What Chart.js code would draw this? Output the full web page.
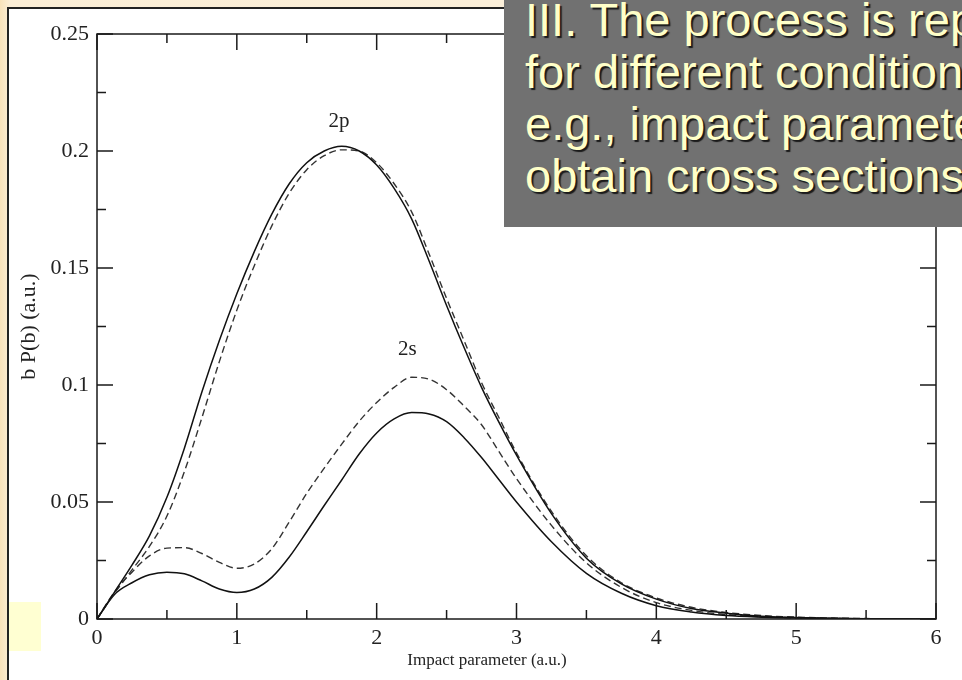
<!DOCTYPE html>
<html>
<head>
<meta charset="utf-8">
<title>b P(b) vs impact parameter</title>
<script src="https://cdn.jsdelivr.net/npm/chart.js@4/dist/chart.umd.min.js"></script>
<style>
  html, body { margin:0; padding:0; width:962px; height:680px; overflow:hidden; }
  #slide { position:relative; width:962px; height:680px; overflow:hidden;
    background: linear-gradient(90deg, #f8e2ba 0px, #fbeed6 10px, #fbf0dc 100%); }
  #panel { position:absolute; left:7px; top:7px; right:-10px; bottom:-10px; background:#fff;
    border-left:2px solid #222; border-top:2px solid #222; }
  #mycanvas { position:absolute; left:0; top:0; }
  #marker { position:absolute; left:9px; top:602px; width:32px; height:49px; background:#ffffd2; }
  #note { position:absolute; left:504px; top:0; width:480px; height:227px; background:#717171; overflow:hidden; }
  #note p { position:absolute; left:21px; top:-6px; margin:0; white-space:nowrap;
    font-family:"Liberation Sans", Arial, sans-serif; font-size:47px; line-height:52px;
    color:#ffffc8; text-shadow:2px 2px 1px #1a1a1a; }
</style>
</head>
<body>
<div id="slide">
  <div id="panel"></div>
  <div id="marker"></div>
  <canvas id="mycanvas" width="962" height="680"></canvas>
  <div id="note"><p>III. The process is repeated<br>for different conditions,<br>e.g., impact parameters,<br>obtain cross sections</p></div>
</div>
<script>
// impact parameter grid (a.u.)
var bValues = [0, 0.125, 0.25, 0.375, 0.5, 0.625, 0.75, 0.875, 1, 1.125, 1.25, 1.375, 1.5, 1.625, 1.75, 1.875, 2,
               2.125, 2.25, 2.375, 2.5, 2.625, 2.75, 2.875, 3, 3.25, 3.5, 3.75, 4, 4.25, 4.5, 4.75, 5, 5.5, 6];

// b P(b) for the 2p and 2s channels, two calculations each
var p2Solid  = [0, 0.0115, 0.023, 0.0355, 0.052, 0.073, 0.097, 0.119, 0.139, 0.157, 0.173, 0.186, 0.195, 0.200, 0.202, 0.200, 0.194,
                0.184, 0.171, 0.153, 0.134, 0.116, 0.099, 0.084, 0.070, 0.045, 0.026, 0.015, 0.0085, 0.0045, 0.0025, 0.0012, 0.0006, 0.0001, 0];
var p2Dashed = [0, 0.011, 0.021, 0.031, 0.044, 0.063, 0.086, 0.110, 0.132, 0.151, 0.168, 0.182, 0.192, 0.198, 0.2005, 0.200, 0.195,
                0.186, 0.174, 0.156, 0.137, 0.119, 0.101, 0.086, 0.071, 0.046, 0.027, 0.0155, 0.009, 0.005, 0.0028, 0.0015, 0.0008, 0.0002, 0];
var s2Solid  = [0, 0.0105, 0.0155, 0.0189, 0.0200, 0.0193, 0.0163, 0.0128, 0.0113, 0.0128, 0.0178, 0.0265, 0.0373, 0.0485, 0.0594, 0.0705, 0.0795,
                0.0855, 0.0882, 0.0876, 0.0843, 0.0775, 0.069, 0.0595, 0.050, 0.033, 0.0195, 0.011, 0.0057, 0.003, 0.0015, 0.0008, 0.0004, 0.0001, 0];
var s2Dashed = [0, 0.0115, 0.020, 0.027, 0.0303, 0.0305, 0.028, 0.0242, 0.0217, 0.0235, 0.030, 0.0415, 0.0537, 0.0645, 0.0747, 0.0845, 0.0925,
                0.099, 0.1033, 0.1025, 0.098, 0.091, 0.083, 0.0715, 0.060, 0.040, 0.024, 0.0135, 0.007, 0.0037, 0.0019, 0.001, 0.0005, 0.0001, 0];

// axis ticks
var xMajor = [0, 1, 2, 3, 4, 5, 6];
var xMinor = [0.5, 1.5, 2.5, 3.5, 4.5, 5.5];
var yMajor = [0, 0.05, 0.1, 0.15, 0.2, 0.25];
var yMinor = [0.025, 0.075, 0.125, 0.175, 0.225];

// curve labels
var curveLabels = [
  { text: '2p', x: 1.73, y: 0.2125 },
  { text: '2s', x: 2.22, y: 0.115 }
];

function toPoints(ys){
  var pts = [];
  for(var i = 0; i < bValues.length; i++){
    pts.push({ x: bValues[i], y: ys[i] });
  }
  return pts;
}

var serif = '"Liberation Serif", "Times New Roman", serif';

// box around the plot, inward ticks on all four sides, axis titles and curve labels
var framePlugin = {
  id: 'frame',
  afterDraw: function(chart){
    var ctx = chart.ctx;
    var a = chart.chartArea;
    var xs = chart.scales.x, ys = chart.scales.y;
    ctx.save();
    ctx.strokeStyle = '#1a1a1a';
    ctx.lineWidth = 1.5;
    ctx.strokeRect(a.left, a.top, a.right - a.left, a.bottom - a.top);
    ctx.beginPath();
    function xt(vals, len){
      vals.forEach(function(v){
        var px = xs.getPixelForValue(v);
        ctx.moveTo(px, a.bottom); ctx.lineTo(px, a.bottom - len);
        ctx.moveTo(px, a.top); ctx.lineTo(px, a.top + len);
      });
    }
    function yt(vals, len){
      vals.forEach(function(v){
        var py = ys.getPixelForValue(v);
        ctx.moveTo(a.left, py); ctx.lineTo(a.left + len, py);
        ctx.moveTo(a.right, py); ctx.lineTo(a.right - len, py);
      });
    }
    xt(xMajor, 16); xt(xMinor, 9);
    yt(yMajor, 16); yt(yMinor, 9);
    ctx.stroke();

    ctx.fillStyle = '#222';
    ctx.textAlign = 'center';
    ctx.textBaseline = 'middle';
    ctx.font = '17px ' + serif;
    ctx.fillText('Impact parameter (a.u.)', 487, 661);
    ctx.save();
    ctx.translate(29, (a.top + a.bottom) / 2);
    ctx.rotate(-Math.PI / 2);
    ctx.font = '22px ' + serif;
    ctx.fillText('b P(b) (a.u.)', 0, 0);
    ctx.restore();

    ctx.font = '21px ' + serif;
    curveLabels.forEach(function(l){
      ctx.fillText(l.text, xs.getPixelForValue(l.x), ys.getPixelForValue(l.y));
    });
    ctx.restore();
  }
};

var ctx = document.getElementById('mycanvas');
var mycanvas = new Chart(ctx, {
  type: 'line',
  data: {
    datasets: [
      { label: '2p', data: toPoints(p2Solid), borderColor: '#111', borderWidth: 1.5 },
      { label: '2p (dashed)', data: toPoints(p2Dashed), borderColor: '#333', borderWidth: 1.4, borderDash: [7, 4] },
      { label: '2s', data: toPoints(s2Solid), borderColor: '#111', borderWidth: 1.5 },
      { label: '2s (dashed)', data: toPoints(s2Dashed), borderColor: '#333', borderWidth: 1.4, borderDash: [7, 4] }
    ]
  },
  options: {
    responsive: false,
    animation: false,
    layout: { padding: { left: 0, top: 34, right: 26, bottom: 0 } },
    plugins: { legend: { display: false }, tooltip: { enabled: false } },
    elements: { point: { radius: 0 }, line: { cubicInterpolationMode: 'monotone' } },
    scales: {
      x: {
        type: 'linear', min: 0, max: 6,
        grid: { display: false, drawTicks: false },
        border: { display: false },
        afterBuildTicks: function(scale){ scale.ticks = xMajor.map(function(v){ return { value: v }; }); },
        afterFit: function(scale){ scale.height = 61; },
        ticks: { padding: 6, color: '#222', font: { family: serif, size: 22 }, maxRotation: 0 }
      },
      y: {
        type: 'linear', min: 0, max: 0.25,
        grid: { display: false, drawTicks: false },
        border: { display: false },
        afterBuildTicks: function(scale){ scale.ticks = yMajor.map(function(v){ return { value: v }; }); },
        afterFit: function(scale){ scale.width = 97; },
        ticks: { padding: 8, color: '#222', font: { family: serif, size: 22 },
          callback: function(v){ return String(Math.round(v * 1000) / 1000); } }
      }
    }
  },
  plugins: [framePlugin]
});
</script>
</body>
</html>
